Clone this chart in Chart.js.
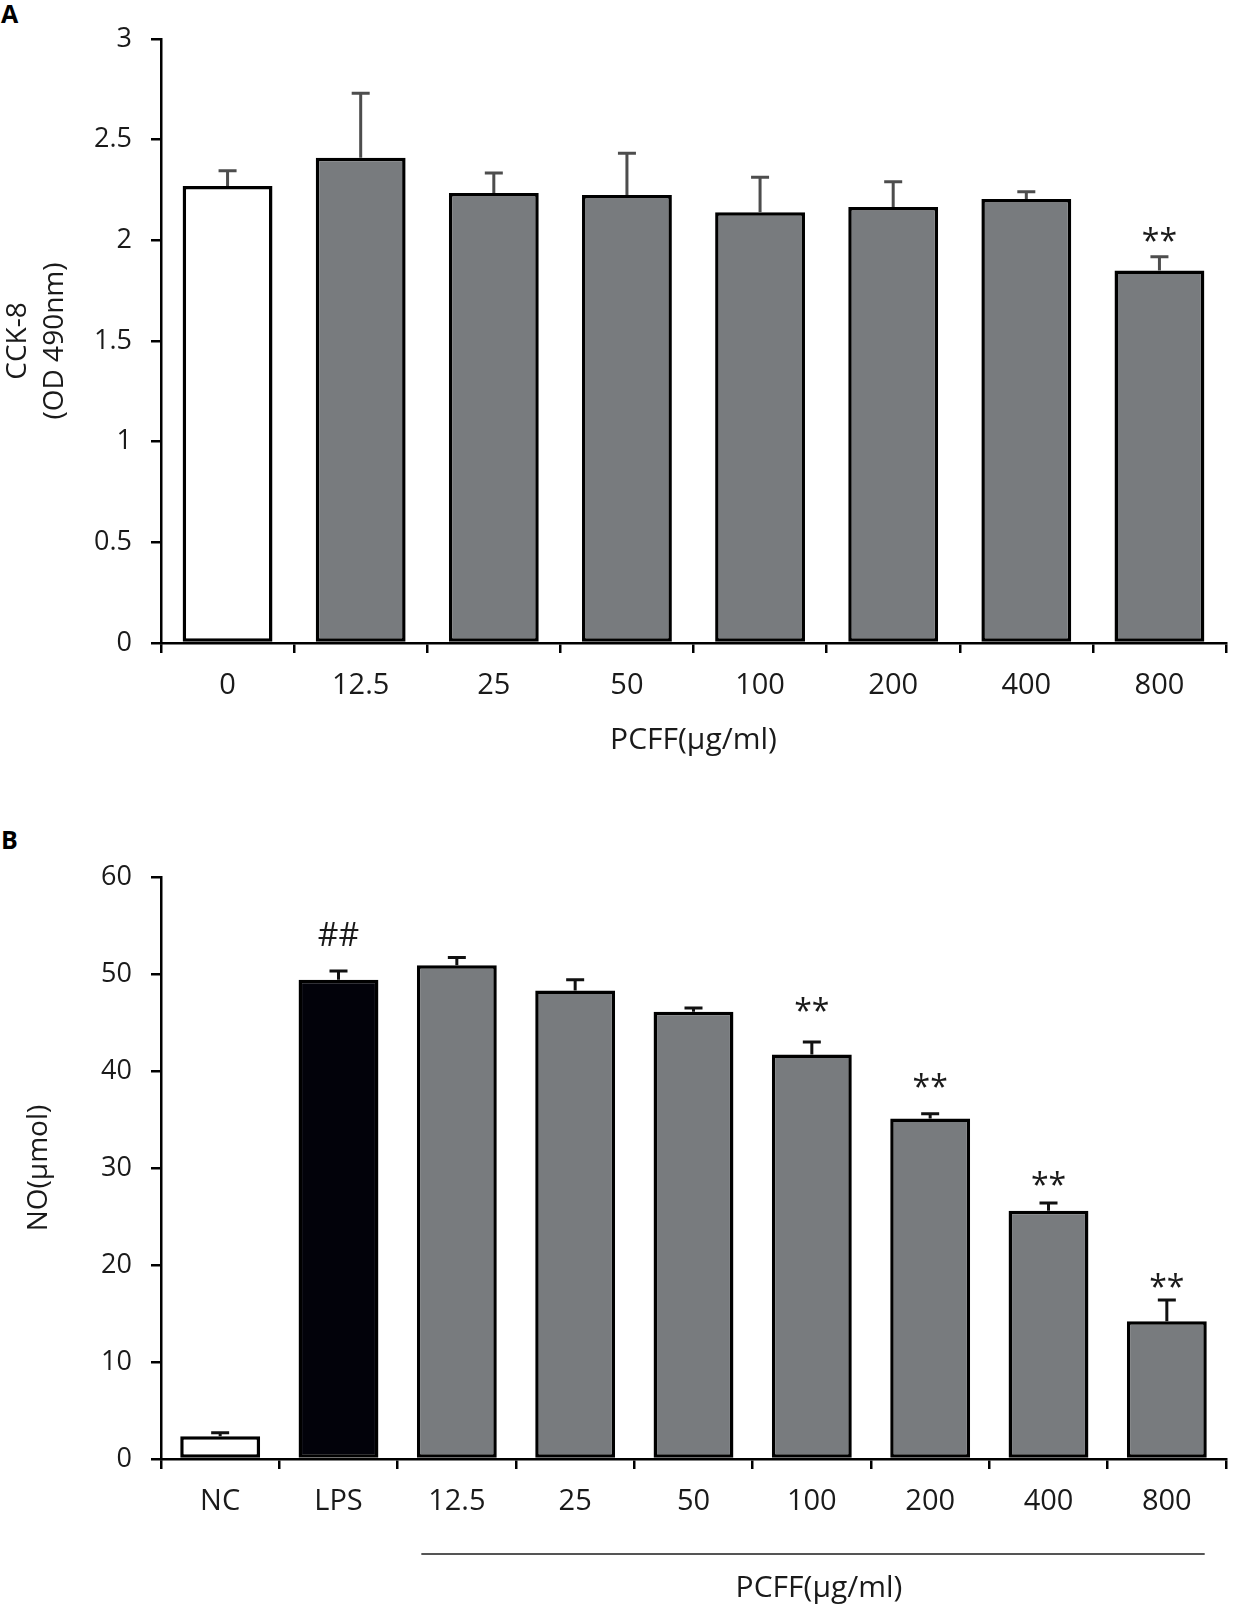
<!DOCTYPE html>
<html>
<head>
<meta charset="utf-8">
<script src="https://cdn.jsdelivr.net/npm/chart.js@4.4.1/dist/chart.umd.min.js"></script>
<style>
  body { margin: 0; background: #fff; }
  #page { position: relative; width: 1241px; height: 1608px; font-family: 'Open Sans', sans-serif; }
  .panel-letter { position: absolute; left: 1px; font: bold 25px 'Open Sans', sans-serif; color: #000; line-height: 1; }
  #chartA { position: absolute; left: 0; top: 0; }
  #chartB { position: absolute; left: 0; top: 820px; }
</style>
</head>
<body>
<div id="page">
  <div class="panel-letter" style="top:1px">A</div>
  <div class="panel-letter" style="top:827px">B</div>
  <canvas id="chartA" width="1241" height="780"></canvas>
  <canvas id="chartB" width="1241" height="788"></canvas>
</div>
<script>
// Painel A - CCK-8
const doseLabelsA = ['0', '12.5', '25', '50', '100', '200', '400', '800'];
const cckMeans = [2.27, 2.41, 2.235, 2.225, 2.14, 2.165, 2.205, 1.85];
const cckErrors = [0.075, 0.32, 0.10, 0.207, 0.173, 0.126, 0.036, 0.068];
const cckMarks = ['', '', '', '', '', '', '', '**'];
const cckMarkAt = [null, null, null, null, null, null, null, 2.03];
const cckTicks = [0, 0.5, 1, 1.5, 2, 2.5, 3];

// Painel B - NO
const groupLabelsB = ['NC', 'LPS', '12.5', '25', '50', '100', '200', '400', '800'];
const noMeans = [2.35, 49.4, 50.9, 48.3, 46.1, 41.7, 35.1, 25.6, 14.2];
const noErrors = [0.35, 0.9, 0.8, 1.1, 0.4, 1.3, 0.5, 0.8, 2.2];
const noMarks = ['', '##', '', '', '', '**', '**', '**', '**'];
const noMarkAt = [null, 54.1, null, null, null, 46.9, 39.05, 28.9, 18.4];
const noTicks = [0, 10, 20, 30, 40, 50, 60];

const GRAY = '#787b7e';
const FONT = "'Open Sans', sans-serif";
const TEXT = '#1a1a1a';

// desenha as barras de erro (so para cima) e os asteriscos
const errorBarPlugin = {
    id: 'errorBars',
    afterDatasetsDraw(chart, args, opts) {
        const ctx = chart.ctx;
        const yScale = chart.scales.y;
        const meta = chart.getDatasetMeta(0);
        ctx.save();
        ctx.strokeStyle = opts.color;
        ctx.lineWidth = 3;
        meta.data.forEach((bar, i) => {
            const yTop = yScale.getPixelForValue(opts.means[i] + opts.errors[i]);
            const yBar = yScale.getPixelForValue(opts.means[i]);
            ctx.beginPath();
            ctx.moveTo(bar.x, yBar);
            ctx.lineTo(bar.x, yTop);
            ctx.moveTo(bar.x - 9, yTop);
            ctx.lineTo(bar.x + 9, yTop);
            ctx.stroke();

            if (opts.marks[i]) {
                ctx.font = '32px ' + FONT;
                ctx.fillStyle = TEXT;
                ctx.textAlign = 'center';
                ctx.textBaseline = 'alphabetic';
                const m = ctx.measureText(opts.marks[i]);
                const yc = yScale.getPixelForValue(opts.markAt[i]);
                const shift = (m.actualBoundingBoxAscent - m.actualBoundingBoxDescent) / 2;
                ctx.fillText(opts.marks[i], bar.x, yc + shift);
            }
        });
        ctx.restore();
    }
};

// linha e titulo sob os grupos PCFF no painel B
const groupLinePlugin = {
    id: 'groupLine',
    afterDraw(chart, args, opts) {
        if (!opts.enabled) return;
        const ctx = chart.ctx;
        const xScale = chart.scales.x;
        const step = xScale.getPixelForValue(1) - xScale.getPixelForValue(0);
        const x0 = xScale.getPixelForValue(2) - 0.30 * step;
        const x1 = xScale.getPixelForValue(groupLabelsB.length - 1) + 0.32 * step;
        const yLine = chart.chartArea.bottom + 95;
        ctx.save();
        ctx.strokeStyle = '#555';
        ctx.lineWidth = 2;
        ctx.beginPath();
        ctx.moveTo(x0, yLine);
        ctx.lineTo(x1, yLine);
        ctx.stroke();
        ctx.font = '30px ' + FONT;
        ctx.fillStyle = TEXT;
        ctx.textAlign = 'center';
        ctx.textBaseline = 'middle';
        ctx.fillText('PCFF(µg/ml)', (x0 + x1) / 2 + 6, yLine + 34);
        ctx.restore();
    }
};

function makeChart(canvasId, cfg) {
    const ctx = document.getElementById(canvasId).getContext('2d');
    return new Chart(ctx, {
        type: 'bar',
        data: {
            labels: cfg.labels,
            datasets: [{
                data: cfg.means,
                backgroundColor: cfg.colors,
                borderColor: '#000',
                borderWidth: 3.5,
                borderSkipped: false,
                categoryPercentage: 1.0,
                barPercentage: 0.675
            }]
        },
        options: {
            responsive: false,
            animation: false,
            layout: {
                padding: { top: cfg.padTop, left: 0, right: 15, bottom: 0 }
            },
            plugins: {
                legend: { display: false },
                tooltip: { enabled: false },
                errorBars: {
                    means: cfg.means,
                    errors: cfg.errors,
                    marks: cfg.marks,
                    markAt: cfg.markAt,
                    color: cfg.errColor
                },
                groupLine: { enabled: cfg.groupLine }
            },
            scales: {
                x: {
                    offset: true,
                    grid: {
                        offset: true,
                        drawOnChartArea: false,
                        drawTicks: true,
                        tickLength: 10,
                        color: '#000',
                        lineWidth: 2.5
                    },
                    border: { color: '#000', width: 2.5 },
                    ticks: {
                        color: TEXT,
                        padding: 15,
                        font: { family: FONT, size: 29 }
                    },
                    title: {
                        display: cfg.xTitle !== null,
                        text: cfg.xTitle || '',
                        color: TEXT,
                        font: { family: FONT, size: 30, lineHeight: 1.2 },
                        padding: { top: 0, bottom: 22 }
                    },
                    afterFit(scale) { scale.height = cfg.xHeight; }
                },
                y: {
                    min: cfg.ticks[0],
                    max: cfg.ticks[cfg.ticks.length - 1],
                    afterBuildTicks(scale) { scale.ticks = cfg.ticks.map(v => ({ value: v })); },
                    grid: {
                        drawOnChartArea: false,
                        drawTicks: true,
                        tickLength: 10,
                        color: '#000',
                        lineWidth: 2.5
                    },
                    border: { color: '#000', width: 2.5 },
                    ticks: {
                        color: TEXT,
                        padding: 19,
                        font: { family: FONT, size: 27 },
                        callback: v => String(v)
                    },
                    title: {
                        display: true,
                        text: cfg.yTitle,
                        color: TEXT,
                        font: { family: FONT, size: 28, lineHeight: cfg.yLineHeight },
                        padding: { top: cfg.yTitlePad, bottom: 0 }
                    },
                    afterFit(scale) { scale.width = 161; }
                }
            }
        },
        plugins: [errorBarPlugin, groupLinePlugin]
    });
}

makeChart('chartA', {
    labels: doseLabelsA,
    means: cckMeans,
    errors: cckErrors,
    marks: cckMarks,
    markAt: cckMarkAt,
    ticks: cckTicks,
    colors: ['#ffffff'].concat(Array(doseLabelsA.length - 1).fill(GRAY)),
    errColor: '#4d4d4d',
    padTop: 39,
    xHeight: 137,
    xTitle: 'PCFF(µg/ml)',
    yTitle: ['CCK-8', '(OD 490nm)'],
    yLineHeight: 1.3,
    yTitlePad: 0,
    groupLine: false
});

makeChart('chartB', {
    labels: groupLabelsB,
    means: noMeans,
    errors: noErrors,
    marks: noMarks,
    markAt: noMarkAt,
    ticks: noTicks,
    colors: ['#ffffff', '#02020a'].concat(Array(groupLabelsB.length - 2).fill(GRAY)),
    errColor: '#111',
    padTop: 57,
    xHeight: 149,
    xTitle: null,
    yTitle: 'NO(μmol)',
    yLineHeight: 1.2,
    yTitlePad: 22,
    groupLine: true
});
</script>
</body>
</html>
